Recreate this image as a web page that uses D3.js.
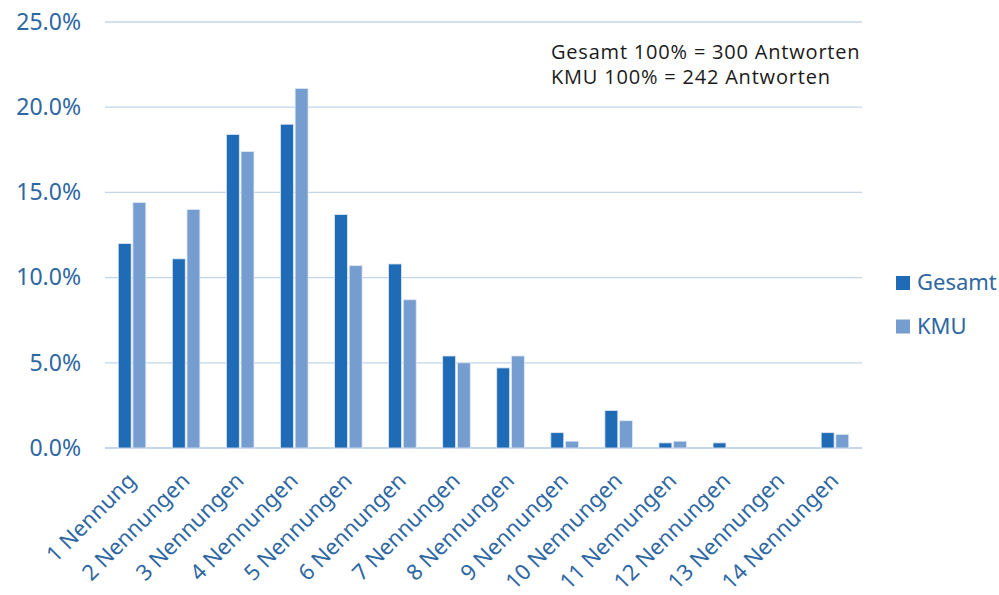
<!DOCTYPE html>
<html>
<head>
<meta charset="utf-8">
<script src="https://cdn.jsdelivr.net/npm/d3@7"></script>
<style>
  body { margin: 0; background: #fff; }
  svg { display: block; }
</style>
</head>
<body>
<div id="chart"></div>
<script>
// Data (percent of answers)
const categories = ["1 Nennung", "2 Nennungen", "3 Nennungen", "4 Nennungen", "5 Nennungen",
  "6 Nennungen", "7 Nennungen", "8 Nennungen", "9 Nennungen", "10 Nennungen",
  "11 Nennungen", "12 Nennungen", "13 Nennungen", "14 Nennungen"];
const seriesNames = ["Gesamt", "KMU"];
const gesamt = [12.0, 11.1, 18.4, 19.0, 13.7, 10.8, 5.4, 4.7, 0.9, 2.2, 0.3, 0.3, 0, 0.9];
const kmu = [14.4, 14.0, 17.4, 21.1, 10.7, 8.7, 5.0, 5.4, 0.4, 1.6, 0.4, 0, 0, 0.8];
const yTicks = [0, 5, 10, 15, 20, 25];
const notes = ["Gesamt 100% = 300 Antworten", "KMU 100% = 242 Antworten"];

const width = 999;
const height = 595;
const margin = {top: 22, right: 137, bottom: 147, left: 105};
const innerWidth = width - margin.left - margin.right;
const innerHeight = height - margin.top - margin.bottom;

const colors = {Gesamt: "#1f6bb6", KMU: "#759dcf"};
const gridColor = "#c4d4ea";
const labelColor = "#2e67a2";
const font = "'Noto Sans', 'DejaVu Sans', sans-serif";

const data = categories.map((c, i) => ({category: c, Gesamt: gesamt[i], KMU: kmu[i]}));

const svg = d3.select("#chart")
  .append("svg")
    .attr("width", width)
    .attr("height", height);

const innerChart = svg
  .append("g")
    .attr("transform", `translate(${margin.left}, ${margin.top})`);

// Scales
const xScale = d3.scaleBand()
  .domain(categories)
  .range([0, innerWidth])
  .paddingInner(0.49)
  .paddingOuter(0.245);

const xInner = d3.scaleBand()
  .domain(seriesNames)
  .range([0, xScale.bandwidth()])
  .paddingInner(0.12);

const yScale = d3.scaleLinear()
  .domain([0, 25])
  .range([innerHeight, 0]);

// Gridlines
innerChart
  .selectAll(".grid")
  .data(yTicks)
  .join("line")
    .attr("class", "grid")
    .attr("x1", 0)
    .attr("x2", innerWidth)
    .attr("y1", d => yScale(d))
    .attr("y2", d => yScale(d))
    .attr("stroke", gridColor)
    .attr("stroke-width", d => d === 0 ? 2 : 1.3);

// Left axis labels
const leftAxis = d3.axisLeft(yScale)
  .tickValues(yTicks)
  .tickSize(0)
  .tickPadding(24)
  .tickFormat(d => d.toFixed(1) + "%");
const yAxis = innerChart.append("g").call(leftAxis);
yAxis.select(".domain").remove();
yAxis.selectAll("text")
  .attr("fill", labelColor)
  .style("font-family", font)
  .style("font-size", "23px");

// Bars
const groups = innerChart
  .selectAll(".group")
  .data(data)
  .join("g")
    .attr("class", "group")
    .attr("transform", d => `translate(${xScale(d.category)}, 0)`);

groups
  .selectAll("rect")
  .data(d => seriesNames.map(s => ({series: s, value: d[s]})))
  .join("rect")
    .attr("x", d => xInner(d.series))
    .attr("width", xInner.bandwidth())
    .attr("y", d => yScale(d.value))
    .attr("height", d => innerHeight - yScale(d.value))
    .attr("fill", d => colors[d.series])
    .attr("stroke", "#dfe8f4")
    .attr("stroke-width", d => d.value > 0 ? 0.8 : 0);

// Bottom axis labels, rotated
const bottomAxis = d3.axisBottom(xScale).tickSize(0).tickPadding(0);
const xAxis = innerChart
  .append("g")
    .attr("transform", `translate(0, ${innerHeight})`)
    .call(bottomAxis);
xAxis.select(".domain").remove();
xAxis.selectAll("text")
  .attr("fill", labelColor)
  .style("font-family", font)
  .style("font-size", "22px")
  .attr("text-anchor", "end")
  .attr("dy", 0)
  .attr("y", 0)
  .attr("transform", "translate(5, 34) rotate(-45)");

// Legend
const legend = svg
  .append("g")
    .attr("transform", "translate(896, 276)");
seriesNames.forEach((s, i) => {
  legend.append("rect")
    .attr("x", 0)
    .attr("y", i * 43.5)
    .attr("width", 14)
    .attr("height", 14)
    .attr("fill", colors[s]);
  legend.append("text")
    .attr("x", 21)
    .attr("y", i * 43.5 + 14)
    .text(s)
    .attr("fill", labelColor)
    .style("font-family", font)
    .style("font-size", "22px");
});

// Annotation
svg.selectAll(".note")
  .data(notes)
  .join("text")
    .attr("class", "note")
    .attr("x", 551)
    .attr("y", (d, i) => 59 + i * 24.5)
    .text(d => d)
    .attr("fill", "#1a1a1a")
    .style("font-family", "'Open Sans', sans-serif")
    .style("font-size", "20px")
    .style("letter-spacing", "0.8px");
</script>
</body>
</html>
